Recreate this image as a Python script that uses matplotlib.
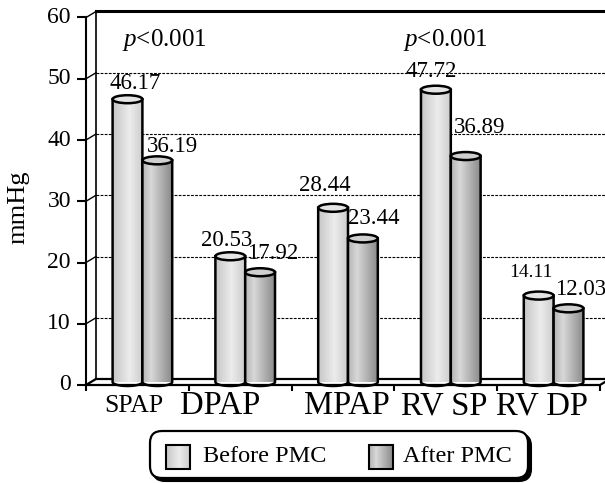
import numpy as np
import matplotlib
matplotlib.use("Agg")
import matplotlib.pyplot as plt
from matplotlib.patches import PathPatch, Ellipse, Polygon, FancyBboxPatch, Rectangle
from matplotlib.path import Path
from matplotlib.colors import LinearSegmentedColormap
from matplotlib.markers import TICKLEFT, TICKDOWN

# data
categories = ["SPAP", "DPAP", "MPAP", "RV SP", "RV DP"]
before_pmc = [46.17, 20.53, 28.44, 47.72, 14.11]
after_pmc = [36.19, 17.92, 23.44, 36.89, 12.03]
series_names = ["Before PMC", "After PMC"]
y_ticks = [0, 10, 20, 30, 40, 50, 60]
p_text = "$p$<0.001"
p_cats = [0, 3]

plt.rcParams["font.family"] = ["Liberation Serif", "DejaVu Serif"]
plt.rcParams["mathtext.fontset"] = "custom"
plt.rcParams["mathtext.it"] = "Liberation Serif:italic"
plt.rcParams["mathtext.rm"] = "Liberation Serif"

W, H = 605, 483
fig = plt.figure(figsize=(W / 100, H / 100), dpi=100)

# mid-depth plane of the pseudo 3d chart, in pixels
AX_L, AX_R, AX_Y0, AX_Y60 = 91, 605, 382, 14.5
ax = fig.add_axes([AX_L / W, (H - AX_Y0) / H, (AX_R - AX_L) / W, (AX_Y0 - AX_Y60) / H])
ax.set_xlim(0, 5)
ax.set_ylim(0, 60)
ax.axis("off")

px_x = (AX_R - AX_L) / 5.0      # pixels per category
px_y = (AX_Y0 - AX_Y60) / 60.0  # pixels per unit
DX = 5 / px_x                   # half depth, data units
DY = 3 / px_y
EH = 4 / px_y                   # half height of cylinder ellipse

lw = 1.8

# back wall
for v in y_ticks[1:-1]:
    ax.plot([DX, 5 + DX], [v + DY, v + DY], color="black", lw=0.8,
            dashes=(2.5, 1.2), clip_on=False, zorder=1)
ax.plot([DX, 5 + 2 * DX], [60 + DY, 60 + DY], color="black", lw=2.2, clip_on=False, zorder=1)
ax.plot([DX, DX], [DY, 60 + DY], color="black", lw=1.2, clip_on=False, zorder=1)

# left side wall and front axis
ax.plot([-DX, -DX], [-DY, 60 - DY], color="black", lw=1.5, clip_on=False, zorder=2)
for v in y_ticks:
    ax.plot([-DX, DX], [v - DY, v + DY], color="black", lw=1.0, clip_on=False, zorder=2)
ax.plot([-DX] * len(y_ticks), [v - DY for v in y_ticks], ls="", marker=TICKLEFT,
        ms=6.5, mew=1.5, color="black", clip_on=False, zorder=2)
for v in y_ticks:
    ax.annotate(str(v), xy=(-DX, v - DY), xytext=(-15, 0), textcoords="offset pixels",
                ha="right", va="center", fontsize=17, annotation_clip=False)

# floor
floor = Polygon([(-DX, -DY), (5 - DX, -DY), (5 + DX, DY), (DX, DY)], closed=True,
                facecolor="white", edgecolor="black", lw=1.6, clip_on=False, zorder=2)
ax.add_patch(floor)
ax.plot(np.arange(6) - DX, [-DY] * 6, ls="", marker=TICKDOWN, ms=4.5, mew=1.5,
        color="black", clip_on=False, zorder=2)

cmaps = [
    LinearSegmentedColormap.from_list("before", [(0, "#c6c6c6"), (0.55, "#ececec"), (1, "#cdcdcd")]),
    LinearSegmentedColormap.from_list("after", [(0, "#b4b4b4"), (0.3, "#d8d8d8"), (1, "#8a8a8a")]),
]
top_colors = ["#e4e4e4", "#cfcfcf"]
grad = np.linspace(0, 1, 64).reshape(1, -1)

bar_w = 0.29
offsets = [0.355, 0.645]


def cylinder(xc, v, k, z):
    x0, x1 = xc - bar_w / 2, xc + bar_w / 2
    t = np.linspace(0, np.pi, 30)
    arc_x = xc + (bar_w / 2) * np.cos(t)
    arc_y = -EH * np.sin(t)
    verts = [(x0, v), (x1, v), (x1, 0)] + list(zip(arc_x, arc_y)) + [(x0, v)]
    codes = [Path.MOVETO] + [Path.LINETO] * (len(verts) - 2) + [Path.CLOSEPOLY]
    body = PathPatch(Path(verts, codes), facecolor="none", edgecolor="black", lw=lw,
                     clip_on=False, zorder=z + 0.2)
    ax.add_patch(body)
    im = ax.imshow(grad, cmap=cmaps[k], extent=(x0, x1, -EH, v), aspect="auto",
                   interpolation="bilinear", zorder=z, clip_on=True)
    im.set_clip_path(body)
    ax.add_patch(Ellipse((xc, v), bar_w, 2 * EH, facecolor=top_colors[k], edgecolor="black",
                         lw=lw, clip_on=False, zorder=z + 0.3))


for i in range(len(categories)):
    for k, vals in enumerate([before_pmc, after_pmc]):
        cylinder(i + offsets[k], vals[i], k, 3 + k)

ax.set_xlim(0, 5)
ax.set_ylim(0, 60)

# value labels (pixel nudges to follow the reference)
label_nudge = [
    [(8, 16), (15, 14)],
    [(-4, 16), (13, 19)],
    [(-8, 22), (11, 20)],
    [(-5, 18), (14, 29)],
    [(-8, 23), (12, 19)],
]
label_size = [[16.5, 16.5], [16.5, 16.5], [16.5, 16.5], [16.5, 16.5], [14, 16.5]]
for i in range(len(categories)):
    for k, vals in enumerate([before_pmc, after_pmc]):
        dx, dy = label_nudge[i][k]
        ax.annotate(f"{vals[i]:.2f}", xy=(i + offsets[k], vals[i]), xytext=(dx, dy),
                    textcoords="offset pixels", ha="center", va="center",
                    fontsize=label_size[i][k], annotation_clip=False, zorder=10)

# p values
p_x = [0.71, 0.45]
for c, dx in zip(p_cats, p_x):
    ax.text(c + dx, 55.8, p_text, ha="center", va="center", fontsize=18)

# category labels
cat_nudge = [-4, -20, 4, -2, -7]
cat_size = [18.5, 23.5, 23.5, 23.5, 23.5]
for i, name in enumerate(categories):
    ax.annotate(name, xy=(i + 0.5 - DX, -DY), xytext=(cat_nudge[i], -21),
                textcoords="offset pixels", ha="center", va="center",
                fontsize=cat_size[i], annotation_clip=False)

fig.text(18 / W, 1 - 207 / H, "mmHg", rotation=90, ha="center", va="center", fontsize=19)

# legend drawn in pixel space
lg = fig.add_axes([0, 0, 1, 1], zorder=20)
lg.set_xlim(0, W)
lg.set_ylim(H, 0)
lg.axis("off")
lg.patch.set_alpha(0)
lg.add_patch(FancyBboxPatch((156, 437), 372, 41, boxstyle="round,pad=3,rounding_size=12",
                            facecolor="black", edgecolor="black", lw=1.5))
lg.add_patch(FancyBboxPatch((153, 434), 372, 41, boxstyle="round,pad=3,rounding_size=12",
                            facecolor="white", edgecolor="black", lw=1.6))
for k, (sx, tx) in enumerate([(166, 203), (369, 403)]):
    sw = Rectangle((sx, 445), 24, 24, facecolor="none", edgecolor="black", lw=1.5, zorder=3)
    lg.add_patch(sw)
    lg.imshow(grad, cmap=cmaps[k], extent=(sx, sx + 24, 469, 445), aspect="auto",
              interpolation="bilinear", zorder=2)
    lg.text(tx, 457, series_names[k], ha="left", va="center", fontsize=17.5)
lg.set_xlim(0, W)
lg.set_ylim(H, 0)

fig.savefig("out.png", dpi=100)
